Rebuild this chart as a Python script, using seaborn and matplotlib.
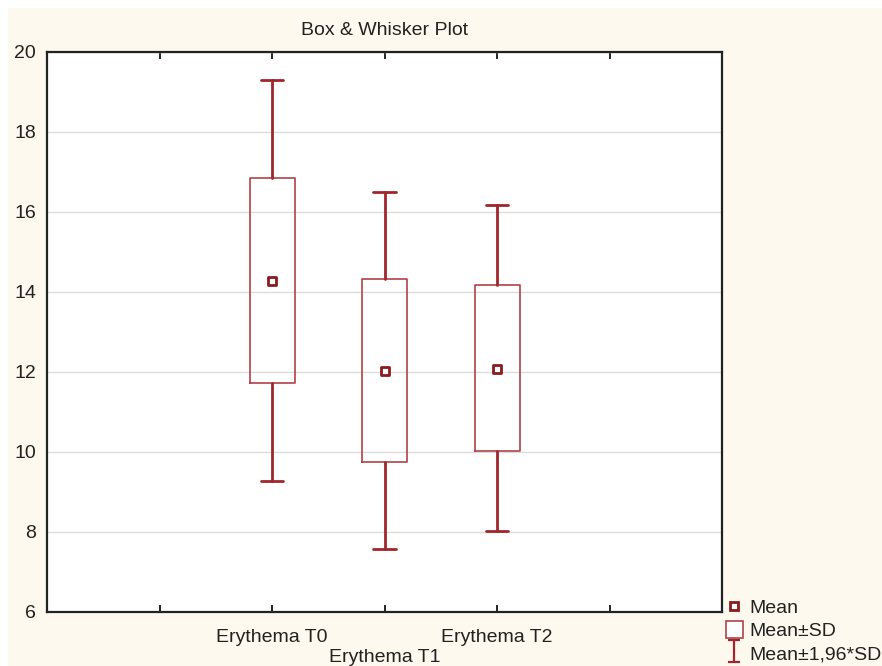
import matplotlib
matplotlib.use("Agg")
import matplotlib.pyplot as plt
from matplotlib.lines import Line2D
from matplotlib.patches import Rectangle
from matplotlib.path import Path
import seaborn as sns
import pandas as pd

categories = ["Erythema T0", "Erythema T1", "Erythema T2"]
means = [14.27, 12.03, 12.08]
sd_low = [11.73, 9.76, 10.02]
sd_high = [16.84, 14.32, 14.17]
ci_low = [9.28, 7.58, 8.03]
ci_high = [19.30, 16.51, 16.17]
yticks = [6, 8, 10, 12, 14, 16, 18, 20]

sns.set_style("white")
plt.rcParams['font.family'] = ['Liberation Sans', 'DejaVu Sans']

RED = "#a0262c"
BOXRED = "#b04248"
CREAM = "#fdf9ee"

fig = plt.figure(figsize=(8.82, 6.66), dpi=100, facecolor="white")
fig.patches.append(Rectangle((8 / 882, 0), 1, 1 - 8 / 666, transform=fig.transFigure,
                             facecolor=CREAM, edgecolor="none", zorder=-10))
ax = fig.add_axes([47 / 882, 1 - 612 / 666, (722 - 47) / 882, (612 - 52) / 666])
ax.set_facecolor("white")

positions = [1, 2, 3]
stats = []
for c, m, lo, hi, wl, wh in zip(categories, means, sd_low, sd_high, ci_low, ci_high):
    stats.append(dict(label=c, med=m, q1=lo, q3=hi, whislo=wl, whishi=wh, fliers=[]))

ax.bxp(stats, positions=positions, widths=0.4, showfliers=False, manage_ticks=False,
       boxprops=dict(color=BOXRED, linewidth=1.2),
       whiskerprops=dict(color=RED, linewidth=2.0),
       capprops=dict(color=RED, linewidth=2.0),
       medianprops=dict(linewidth=0, color="none"),
       capwidths=0.2, zorder=3)

df = pd.DataFrame({"x": positions, "mean": means})
sns.scatterplot(data=df, x="x", y="mean", ax=ax, marker="s", s=38,
                facecolor="white", edgecolor="#8b1a1f", linewidth=2.0, zorder=5, legend=False)

ax.set_xlim(-1, 5)
ax.set_ylim(6, 20)
ax.set_yticks(yticks)
ax.set_yticklabels([str(v) for v in yticks], fontsize=14)
ax.set_xticks([0, 1, 2, 3, 4])
ax.set_xticklabels(["", categories[0], "\n" + categories[1], categories[2], ""], fontsize=14,
                   linespacing=1.25)
ax.set_xlabel("")
ax.set_ylabel("")
ax.tick_params(axis="x", direction="in", length=5, width=1.2, top=True, bottom=True,
               pad=12, colors="black", labelcolor="#222222")
ax.tick_params(axis="y", length=0, pad=8, labelcolor="#222222")
ax.yaxis.grid(True, color="#dcdcdc", linewidth=1.0)
ax.set_axisbelow(True)
for sp in ax.spines.values():
    sp.set_visible(True)
    sp.set_color("#222222")
    sp.set_linewidth(1.6)

ax.set_title("Box & Whisker Plot", fontsize=14, pad=12, color="#222222")

ibar = Path([(-0.5, 1), (0.5, 1), (0, 1), (0, -1), (-0.5, -1), (0.5, -1)],
            [Path.MOVETO, Path.LINETO, Path.MOVETO, Path.LINETO, Path.MOVETO, Path.LINETO])
handles = [
    Line2D([], [], marker="s", ls="none", ms=6, mfc="white", mec="#8b1a1f", mew=2.0),
    Rectangle((0, 0), 1, 1, facecolor="white", edgecolor=BOXRED, linewidth=1.2),
    Line2D([], [], marker=ibar, ls="none", ms=16, mec=RED, mew=1.6),
]
labels = ["Mean", "Mean±SD", "Mean±1,96*SD"]
leg = fig.legend(handles, labels, loc="upper left", bbox_to_anchor=(726 / 882, 1 - 598 / 666),
                 frameon=False, fontsize=14, handlelength=0.85, handletextpad=0.35,
                 labelspacing=0.18, borderaxespad=0.0, borderpad=0.0, handleheight=1.0)
for t in leg.get_texts():
    t.set_color("#222222")

fig.savefig("out.png", dpi=100, facecolor=fig.get_facecolor())
